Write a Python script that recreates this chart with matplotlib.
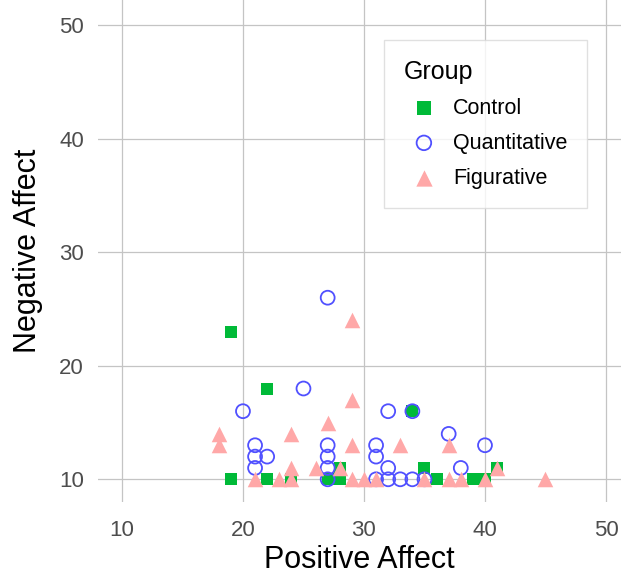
import matplotlib.pyplot as plt

plt.rcParams['font.family'] = ['Liberation Sans', 'DejaVu Sans']

# puntos (Positive Affect, Negative Affect)
control_x = [19, 22, 34, 19, 22, 24, 27, 28, 28, 35, 36, 39, 40, 41]
control_y = [23, 18, 16, 10, 10, 10, 10, 10, 11, 11, 10, 10, 10, 11]

quant_x = [27, 25, 20, 32, 34, 21, 21, 21, 22, 27, 27, 27, 27, 31, 31, 37, 40, 32, 38,
           31, 32, 33, 34, 35]
quant_y = [26, 18, 16, 16, 16, 13, 12, 11, 12, 13, 12, 11, 10, 13, 12, 14, 13, 11, 11,
           10, 10, 10, 10, 10]

fig_x = [18, 18, 24, 27, 29, 29, 29, 33, 37, 24, 26, 28, 41, 21, 23, 24, 29, 30, 31,
         35, 37, 38, 40, 45]
fig_y = [14, 13, 14, 15, 24, 17, 13, 13, 13, 11, 11, 11, 11, 10, 10, 10, 10, 10, 10,
         10, 10, 10, 10, 10]

ticks = [10, 20, 30, 40, 50]

fig = plt.figure(figsize=(6.21, 5.77), dpi=100)
ax = fig.add_axes([98 / 621, 75 / 577, 523 / 621, 502 / 577])

ax.scatter(control_x, control_y, marker='s', s=85, color='#00BA38', linewidths=0,
           label='Control', zorder=3)
ax.scatter(quant_x, quant_y, marker='o', s=100, facecolors='none', edgecolors='#5050FF',
           linewidths=1.3, label='Quantitative', zorder=4)
ax.scatter(fig_x, fig_y, marker='^', s=125, color='#FFA8A8', linewidths=0,
           label='Figurative', zorder=5)

ax.set_xlim(8.02, 51.24)
ax.set_ylim(8.0, 52.23)
ax.set_xticks(ticks)
ax.set_yticks(ticks)
ax.grid(True, color='#c4c4c4', linewidth=0.9)
ax.set_axisbelow(True)
for s in ax.spines.values():
    s.set_visible(False)
ax.tick_params(length=0, labelsize=16, labelcolor='#4D4D4D')
ax.tick_params(axis='x', pad=13)
ax.tick_params(axis='y', pad=10)

ax.set_xlabel('Positive Affect', fontsize=22, labelpad=3)
ax.set_ylabel('Negative Affect', fontsize=22, labelpad=12)

leg = ax.legend(title='Group', loc='upper left', bbox_to_anchor=(0.547, 0.92),
                fontsize=15.5, title_fontsize=18, frameon=True, fancybox=False,
                borderpad=0.9, labelspacing=0.65, handletextpad=0.4,
                handlelength=1.9, borderaxespad=0, markerscale=1.05)
leg.get_frame().set_edgecolor('#d9d9d9')
leg.get_frame().set_linewidth(1.0)
leg._legend_box.align = 'left'

plt.savefig('out.png', dpi=100)
